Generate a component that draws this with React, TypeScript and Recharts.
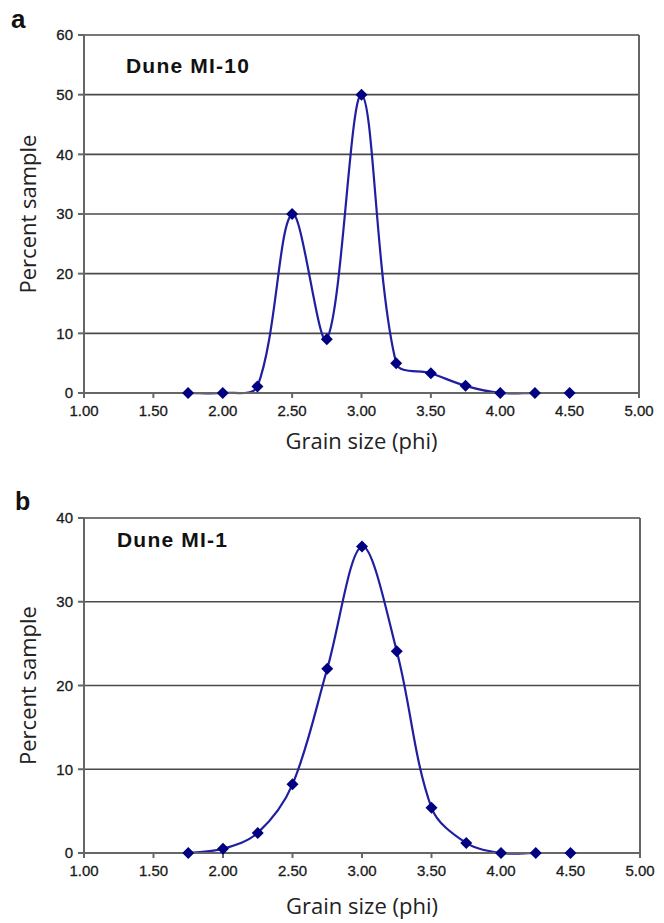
import React from "react";
import {
  CartesianGrid,
  Line,
  LineChart,
  ReferenceLine,
  XAxis,
  YAxis,
} from "recharts";

const grainSize = [1.75, 2.0, 2.25, 2.5, 2.75, 3.0, 3.25, 3.5, 3.75, 4.0, 4.25, 4.5];
const duneMI10 = [0, 0, 1.1, 30, 9, 50, 5, 3.3, 1.2, 0, 0, 0];
const duneMI1 = [0, 0.5, 2.4, 8.2, 22, 36.6, 24.1, 5.4, 1.2, 0, 0, 0];
const xTicks = [1, 1.5, 2, 2.5, 3, 3.5, 4, 4.5, 5];
const yTicksA = [0, 10, 20, 30, 40, 50, 60];
const yTicksB = [0, 10, 20, 30, 40];

const LINE = "#1f1fa0";
const MARK = "#000080";
const GRID = "#4a4a4a";
const AXIS = "#666";
const TICK_FONT = "'Liberation Sans', Arial, sans-serif";
const TITLE_FONT = "'Open Sans', 'Noto Sans', sans-serif";

// Excel-like smoothed line: bezier through every point, handle lengths
// weighted by the neighbouring segment lengths
const excelSmooth = (context: any) => {
  let pts: number[][] = [];
  return {
    areaStart() {},
    areaEnd() {},
    lineStart() {
      pts = [];
    },
    point(x: number, y: number) {
      pts.push([+x, +y]);
    },
    lineEnd() {
      const n = pts.length;
      if (!n) return;
      const dist = (a: number[], b: number[]) => Math.hypot(b[0] - a[0], b[1] - a[1]);
      const before: number[][] = [];
      const after: number[][] = [];
      for (let i = 0; i < n; i++) {
        const p = pts[i];
        const prev = pts[i - 1] || p;
        const next = pts[i + 1] || p;
        const dx = next[0] - prev[0];
        const dy = next[1] - prev[1];
        const l1 = dist(prev, p);
        const l2 = dist(p, next);
        const s = l1 + l2 || 1;
        const k = 1 / 3;
        before.push([p[0] - (dx * l1 * k) / s, p[1] - (dy * l1 * k) / s]);
        after.push([p[0] + (dx * l2 * k) / s, p[1] + (dy * l2 * k) / s]);
      }
      context.moveTo(pts[0][0], pts[0][1]);
      for (let i = 0; i < n - 1; i++) {
        const c1 = after[i];
        const c2 = before[i + 1];
        context.bezierCurveTo(c1[0], c1[1], c2[0], c2[1], pts[i + 1][0], pts[i + 1][1]);
      }
    },
  };
};

const Diamond = (p: any) => {
  const { cx, cy, index } = p;
  if (cx == null || cy == null) return <g key={index} />;
  const r = 6;
  return (
    <polygon
      key={index}
      points={`${cx},${cy - r} ${cx + r},${cy} ${cx},${cy + r} ${cx - r},${cy}`}
      fill={MARK}
    />
  );
};

type PanelProps = {
  letter: string;
  title: string;
  values: number[];
  yTicks: number[];
  height: number;
  margin: { top: number; right: number; left: number; bottom: number };
  letterPos: { left: number; top: number; size: number };
  titlePos: { left: number; top: number };
  xTitleOffset: number;
};

const tickStyle = {
  fontSize: 15,
  fill: "#1a1a1a",
  stroke: "#1a1a1a",
  strokeWidth: 0.3,
  fontFamily: TICK_FONT,
};

function Panel({
  letter,
  title,
  values,
  yTicks,
  height,
  margin,
  letterPos,
  titlePos,
  xTitleOffset,
}: PanelProps) {
  const data = grainSize.map((phi, i) => ({ phi, pct: values[i] }));
  const yMax = yTicks[yTicks.length - 1];
  return (
    <div style={{ position: "relative", width: 664, height }}>
      <LineChart
        width={664}
        height={height}
        data={data}
        margin={margin}
        style={{ fontFamily: TICK_FONT }}
      >
        <CartesianGrid
          vertical={false}
          stroke={GRID}
          strokeWidth={1.6}
          horizontalValues={yTicks}
        />
        <XAxis
          type="number"
          dataKey="phi"
          domain={[1, 5]}
          ticks={xTicks}
          interval={0}
          tickFormatter={(v: number) => v.toFixed(2)}
          height={60}
          tickSize={5}
          tickMargin={7}
          stroke={AXIS}
          strokeWidth={2}
          tick={tickStyle}
          label={{
            content: (props: any) => {
              const vb = props.viewBox;
              return (
                <text
                  x={vb.x + vb.width / 2}
                  y={vb.y + xTitleOffset}
                  textAnchor="middle"
                  dominantBaseline="central"
                  fontSize={22}
                  fontFamily={TITLE_FONT}
                  fill="#222"
                >
                  Grain size (phi)
                </text>
              );
            },
          }}
        />
        <YAxis
          type="number"
          domain={[0, yMax]}
          ticks={yTicks}
          interval={0}
          width={84}
          tickSize={6}
          tickMargin={5}
          stroke={AXIS}
          strokeWidth={2}
          tick={tickStyle}
          label={{
            content: (props: any) => {
              const vb = props.viewBox;
              const cy = vb.y + vb.height / 2;
              return (
                <text
                  x={27}
                  y={cy}
                  textAnchor="middle"
                  dominantBaseline="central"
                  fontSize={22}
                  fontFamily={TITLE_FONT}
                  fill="#222"
                  transform={`rotate(-90, 27, ${cy})`}
                >
                  Percent sample
                </text>
              );
            },
          }}
        />
        <ReferenceLine x={5} stroke={AXIS} strokeWidth={2} />
        <Line
          type={excelSmooth as any}
          dataKey="pct"
          stroke={LINE}
          strokeWidth={2.2}
          dot={Diamond}
          activeDot={false}
          isAnimationActive={false}
        />
      </LineChart>
      <span
        style={{
          position: "absolute",
          left: letterPos.left,
          top: letterPos.top,
          fontFamily: TICK_FONT,
          fontWeight: 700,
          fontSize: letterPos.size,
          lineHeight: 1,
          color: "#111",
        }}
      >
        {letter}
      </span>
      <span
        style={{
          position: "absolute",
          left: titlePos.left,
          top: titlePos.top,
          fontFamily: TICK_FONT,
          fontWeight: 700,
          fontSize: 21,
          letterSpacing: 1.2,
          lineHeight: 1,
          color: "#111",
          whiteSpace: "nowrap",
        }}
      >
        {title}
      </span>
    </div>
  );
}

export default function App() {
  return (
    <div
      style={{
        position: "absolute",
        left: 0,
        top: 0,
        width: 664,
        height: 923,
        background: "#fff",
      }}
    >
      <Panel
        letter="a"
        title="Dune MI-10"
        values={duneMI10}
        yTicks={yTicksA}
        height={470}
        margin={{ top: 35, right: 25, left: 0, bottom: 17 }}
        letterPos={{ left: 11, top: 6, size: 26 }}
        titlePos={{ left: 126, top: 55 }}
        xTitleOffset={47}
      />
      <Panel
        letter="b"
        title="Dune MI-1"
        values={duneMI1}
        yTicks={yTicksB}
        height={453}
        margin={{ top: 48, right: 24, left: 0, bottom: 10 }}
        letterPos={{ left: 15, top: 19, size: 25 }}
        titlePos={{ left: 117, top: 59 }}
        xTitleOffset={52}
      />
    </div>
  );
}
